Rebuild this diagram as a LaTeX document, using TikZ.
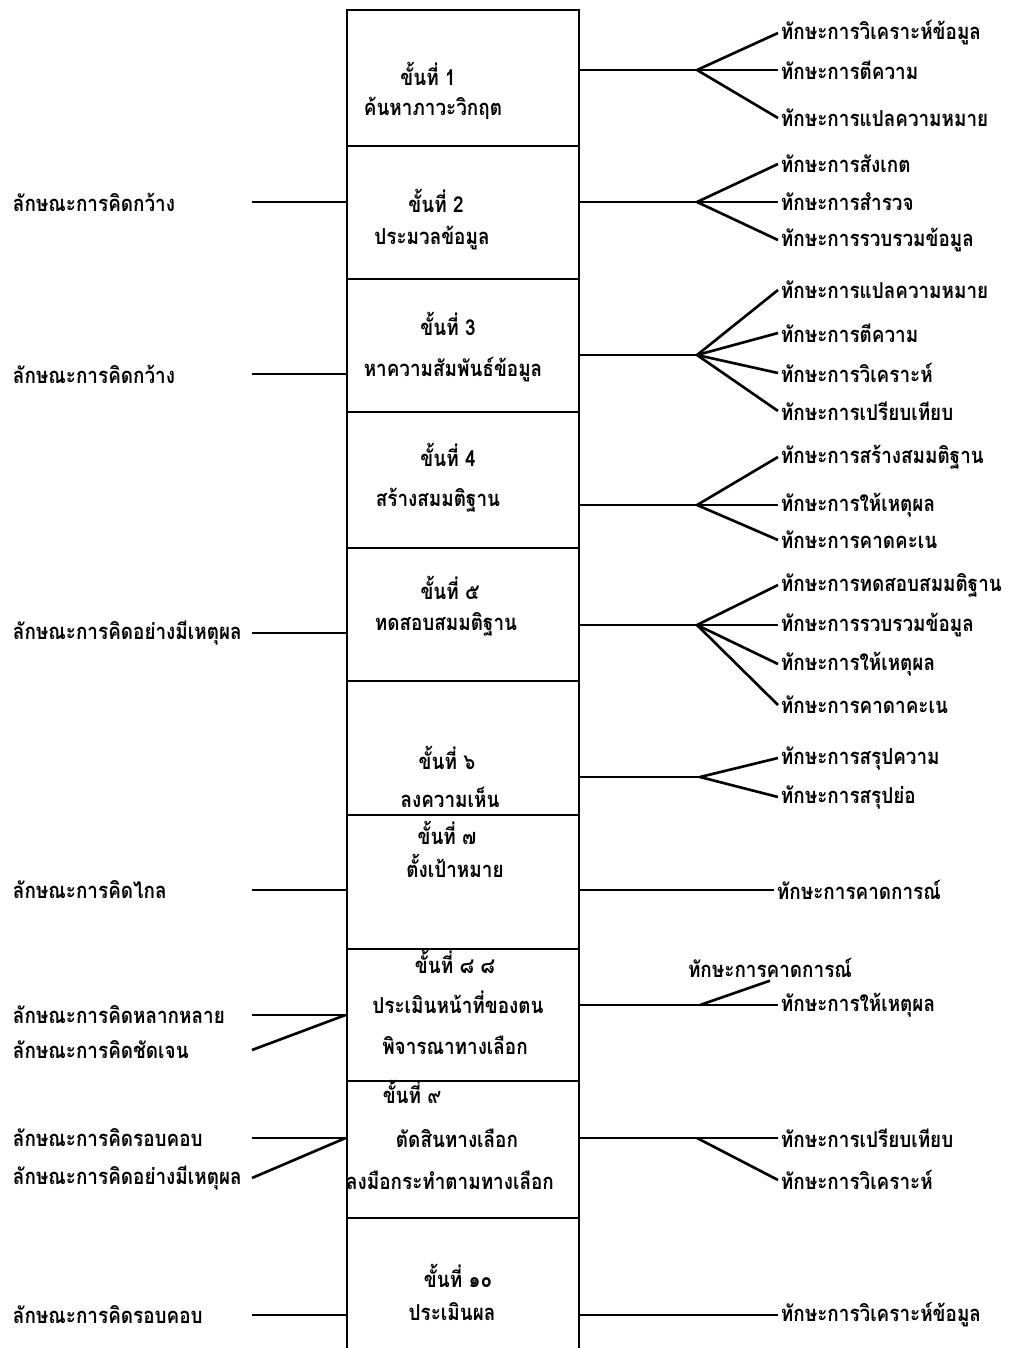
\documentclass[tikz,border=0pt]{standalone}
\usepackage{fontspec}
\newfontfamily\thaifont[Script=Thai, FakeStretch=0.86]{Loma}
\usepackage{tikz}
\usetikzlibrary{positioning, calc}
\tikzset{
    stage_box/.style={
        rectangle, draw=black, line width=1.6pt,
        minimum width=46.4mm, inner sep=0pt
    },
    stage_txt/.style={
        font=\thaifont\bfseries\fontsize{12.5pt}{15pt}\selectfont, text=black, inner sep=1pt
    },
    skill_lbl/.style={
        font=\thaifont\bfseries\fontsize{12.5pt}{15pt}\selectfont, text=black,
        anchor=west, inner sep=1.5pt
    },
    trait_lbl/.style={
        font=\thaifont\bfseries\fontsize{12.5pt}{15pt}\selectfont, text=black,
        anchor=west, inner sep=1.5pt
    },
    link_line/.style={
        draw=black, line width=1.5pt
    }
}

\begin{document}
\begin{tikzpicture}[x=0.2mm, y=-0.2mm]

    \useasboundingbox (0,0) rectangle (1011,1348);
    \clip (0,0) rectangle (1011,1348);

    % stage column
    \node[stage_box, minimum height=27.2mm] (s1) at (463,78) {};
    \node[stage_box, minimum height=26.6mm] (s2) at (463,212.5) {};
    \node[stage_box, minimum height=26.6mm] (s3) at (463,345.5) {};
    \node[stage_box, minimum height=27.2mm] (s4) at (463,480) {};
    \node[stage_box, minimum height=26.6mm] (s5) at (463,614.5) {};
    \node[stage_box, minimum height=26.8mm] (s6) at (463,748) {};
    \node[stage_box, minimum height=26.8mm] (s7) at (463,882) {};
    \node[stage_box, minimum height=26.4mm] (s8) at (463,1015) {};
    \node[stage_box, minimum height=27.4mm] (s9) at (463,1149.5) {};
    \node[stage_box, minimum height=36.4mm] (s10) at (463,1309) {};

    \node[stage_txt] (s1n) at (428,74) {ขั้นที่ 1};
    \node[stage_txt] (s1t) at (433,108) {ค้นหาภาวะวิกฤต};
    \node[stage_txt] (s2n) at (436,201) {ขั้นที่ 2};
    \node[stage_txt] (s2t) at (432,238) {ประมวลข้อมูล};
    \node[stage_txt] (s3n) at (448,324) {ขั้นที่ 3};
    \node[stage_txt] (s3t) at (453,370) {หาความสัมพันธ์ข้อมูล};
    \node[stage_txt] (s4n) at (448,455) {ขั้นที่ 4};
    \node[stage_txt] (s4t) at (438,500) {สร้างสมมติฐาน};
    \node[stage_txt] (s5n) at (450,588) {ขั้นที่ ๕};
    \node[stage_txt] (s5t) at (446,624) {ทดสอบสมมติฐาน};
    \node[stage_txt] (s6n) at (447,758) {ขั้นที่ ๖};
    \node[stage_txt] (s6t) at (450,797) {ลงความเห็น};
    \node[stage_txt] (s7n) at (447,833) {ขั้นที่ ๗};
    \node[stage_txt] (s7t) at (455,866) {ตั้งเป้าหมาย};
    \node[stage_txt] (s8n) at (455,962) {ขั้นที่ ๘ ๘};
    \node[stage_txt] (s8t) at (458,1002) {ประเมินหน้าที่ของตน};
    \node[stage_txt] (s8u) at (455,1045) {พิจารณาทางเลือก};
    \node[stage_txt] (s9n) at (412,1092) {ขั้นที่ ๙};
    \node[stage_txt] (s9t) at (457,1138) {ตัดสินทางเลือก};
    \node[stage_txt] (s9u) at (450,1180) {ลงมือกระทำตามทางเลือก};
    \node[stage_txt] (s10n) at (458,1276) {ขั้นที่ ๑๐};
    \node[stage_txt] (s10t) at (452,1312) {ประเมินผล};

    % fan points on the right
    \coordinate (f1) at (697,70);
    \coordinate (f2) at (697,202);
    \coordinate (f3) at (697,355);
    \coordinate (f4) at (697,505);
    \coordinate (f5) at (697,625);
    \coordinate (f6) at (700,777);
    \coordinate (f8) at (700,1005);
    \coordinate (f9) at (697,1138);
    \coordinate (lx) at (252,0);

    % skills (right)
    \node[skill_lbl] (r1a) at (778,33) {ทักษะการวิเคราะห์ข้อมูล};
    \node[skill_lbl] (r1b) at (778,70) {ทักษะการตีความ};
    \node[skill_lbl] (r1c) at (778,118) {ทักษะการแปลความหมาย};
    \node[skill_lbl] (r2a) at (778,164) {ทักษะการสังเกต};
    \node[skill_lbl] (r2b) at (778,202) {ทักษะการสำรวจ};
    \node[skill_lbl] (r2c) at (778,240) {ทักษะการรวบรวมข้อมูล};
    \node[skill_lbl] (r3a) at (778,290) {ทักษะการแปลความหมาย};
    \node[skill_lbl] (r3b) at (778,333) {ทักษะการตีความ};
    \node[skill_lbl] (r3c) at (778,373) {ทักษะการวิเคราะห์};
    \node[skill_lbl] (r3d) at (778,411) {ทักษะการเปรียบเทียบ};
    \node[skill_lbl] (r4a) at (778,457) {ทักษะการสร้างสมมติฐาน};
    \node[skill_lbl] (r4b) at (778,505) {ทักษะการให้เหตุผล};
    \node[skill_lbl] (r4c) at (778,540) {ทักษะการคาดคะเน};
    \node[skill_lbl] (r5a) at (778,585) {ทักษะการทดสอบสมมติฐาน};
    \node[skill_lbl] (r5b) at (778,625) {ทักษะการรวบรวมข้อมูล};
    \node[skill_lbl] (r5c) at (778,664) {ทักษะการให้เหตุผล};
    \node[skill_lbl] (r5d) at (778,705) {ทักษะการคาดาคะเน};
    \node[skill_lbl] (r6a) at (778,758) {ทักษะการสรุปความ};
    \node[skill_lbl] (r6b) at (778,797) {ทักษะการสรุปย่อ};
    \node[skill_lbl] (r7) at (774,890) {ทักษะการคาดการณ์};
    \node[skill_lbl, anchor=center] (r8a) at (770,968) {ทักษะการคาดการณ์};
    \node[skill_lbl] (r8b) at (778,1005) {ทักษะการให้เหตุผล};
    \node[skill_lbl] (r9a) at (778,1138) {ทักษะการเปรียบเทียบ};
    \node[skill_lbl] (r9b) at (778,1180) {ทักษะการวิเคราะห์};
    \node[skill_lbl] (r10) at (778,1315) {ทักษะการวิเคราะห์ข้อมูล};

    % thinking traits (left)
    \node[trait_lbl] (l2) at (10,202) {ลักษณะการคิดกว้าง};
    \node[trait_lbl] (l3) at (10,374) {ลักษณะการคิดกว้าง};
    \node[trait_lbl] (l5) at (10,633) {ลักษณะการคิดอย่างมีเหตุผล};
    \node[trait_lbl] (l7) at (10,890) {ลักษณะการคิดไกล};
    \node[trait_lbl] (l8a) at (10,1015) {ลักษณะการคิดหลากหลาย};
    \node[trait_lbl] (l8b) at (10,1050) {ลักษณะการคิดชัดเจน};
    \node[trait_lbl] (l9a) at (10,1138) {ลักษณะการคิดรอบคอบ};
    \node[trait_lbl] (l9b) at (10,1178) {ลักษณะการคิดอย่างมีเหตุผล};
    \node[trait_lbl] (l10) at (10,1315) {ลักษณะการคิดรอบคอบ};

    % right connectors
    \draw[link_line] (s1.east |- f1) -- (f1);
    \draw[link_line] (f1) -- (r1a.west);
    \draw[link_line] (f1) -- (r1b.west);
    \draw[link_line] (f1) -- (r1c.west);
    \draw[link_line] (s2.east |- f2) -- (f2);
    \draw[link_line] (f2) -- (r2a.west);
    \draw[link_line] (f2) -- (r2b.west);
    \draw[link_line] (f2) -- (r2c.west);
    \draw[link_line] (s3.east |- f3) -- (f3);
    \draw[link_line] (f3) -- (r3a.west);
    \draw[link_line] (f3) -- (r3b.west);
    \draw[link_line] (f3) -- (r3c.west);
    \draw[link_line] (f3) -- (r3d.west);
    \draw[link_line] (s4.east |- f4) -- (f4);
    \draw[link_line] (f4) -- (r4a.west);
    \draw[link_line] (f4) -- (r4b.west);
    \draw[link_line] (f4) -- (r4c.west);
    \draw[link_line] (s5.east |- f5) -- (f5);
    \draw[link_line] (f5) -- (r5a.west);
    \draw[link_line] (f5) -- (r5b.west);
    \draw[link_line] (f5) -- (r5c.west);
    \draw[link_line] (f5) -- (r5d.west);
    \draw[link_line] (s6.east |- f6) -- (f6);
    \draw[link_line] (f6) -- (r6a.west);
    \draw[link_line] (f6) -- (r6b.west);
    \draw[link_line] (s7.east |- r7) -- (r7.west);
    \draw[link_line] (s8.east |- f8) -- (f8) -- (r8b.west);
    \draw[link_line] (f8) -- (r8a.south);
    \draw[link_line] (s9.east |- f9) -- (f9) -- (r9a.west);
    \draw[link_line] (f9) -- (r9b.west);
    \draw[link_line] (s10.east |- r10) -- (r10.west);

    % left connectors
    \draw[link_line] (lx |- l2) -- (s2.west |- l2);
    \draw[link_line] (lx |- l3) -- (s3.west |- l3);
    \draw[link_line] (lx |- l5) -- (s5.west |- l5);
    \draw[link_line] (lx |- l7) -- (s7.west |- l7);
    \draw[link_line] (lx |- l8a) -- (s8.west |- l8a);
    \draw[link_line] (lx |- l8b) -- (s8.west |- l8a);
    \draw[link_line] (lx |- l9a) -- (s9.west |- l9a);
    \draw[link_line] (lx |- l9b) -- (s9.west |- l9a);
    \draw[link_line] (lx |- l10) -- (s10.west |- l10);

\end{tikzpicture}
\end{document}
